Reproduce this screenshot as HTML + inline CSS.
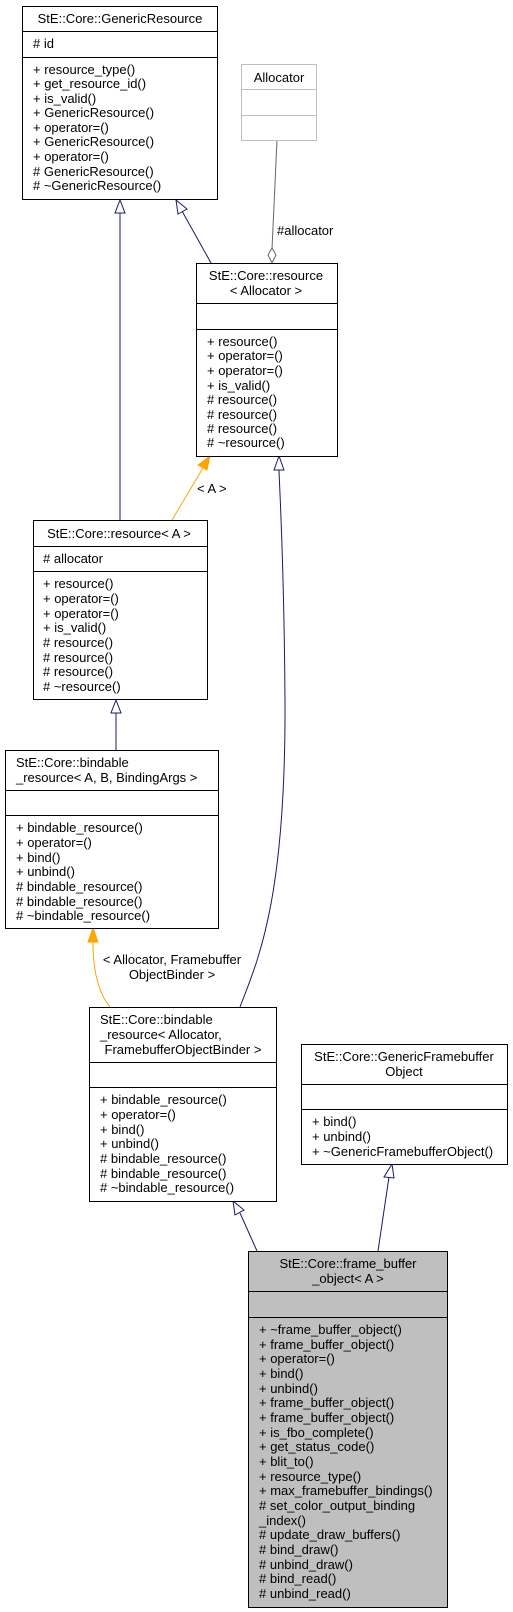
<!DOCTYPE html>
<html><head><meta charset="utf-8"><style>
html,body{margin:0;padding:0;background:#fff;}
svg{display:block;}
text{font-family:"Liberation Sans",sans-serif;font-size:13px;fill:#000;}
.c{text-anchor:middle;}
</style></head><body>
<svg width="513" height="1612" viewBox="0 0 513 1612" xmlns="http://www.w3.org/2000/svg">
<g fill="none" stroke="#191970" stroke-width="1">
<line x1="120" y1="520" x2="120" y2="213"/>
<polygon points="120,200 115,213 125,213" fill="#fff"/>
<line x1="211" y1="263" x2="182" y2="211"/>
<polygon points="176,200 178,214 187,209" fill="#fff"/>
<line x1="116" y1="750" x2="116" y2="713"/>
<polygon points="116,700 111,713 121,713" fill="#fff"/>
<path d="M240,1007 C258,960 286,900 285,700 C284,560 280,500 279,470"/>
<polygon points="279,456 274,470 284,470" fill="#fff"/>
<line x1="257" y1="1251" x2="240" y2="1213"/>
<polygon points="233,1201 235,1215 244,1210" fill="#fff"/>
<line x1="378" y1="1251" x2="389" y2="1177"/>
<polygon points="392,1164 384,1177 394,1178" fill="#fff"/>
</g>
<g fill="none" stroke="#ffa500" stroke-width="1">
<line x1="172" y1="520" x2="203" y2="468"/>
<polygon points="210,456 198,465 207,470" fill="#ffa500"/>
<path d="M110,1007 C96,990 93,965 93,942"/>
<polygon points="93,928 88,942 98,942" fill="#ffa500"/>
</g>
<line x1="277" y1="140" x2="272" y2="249" stroke="#666" stroke-width="1"/>
<polygon points="272,248 276,255 272,263 268,255" fill="#fff" stroke="#666"/>
<text x="277" y="235">#allocator</text>
<text x="197" y="493">&lt; A &gt;</text>
<text class="c" x="172" y="964">&lt; Allocator, Framebuffer</text>
<text class="c" x="172" y="979">ObjectBinder &gt;</text>

<g stroke="#000" fill="#fff"><rect x="22.5" y="6.5" width="195" height="193"/><line x1="22" y1="31.5" x2="218" y2="31.5"/><line x1="22" y1="57.5" x2="218" y2="57.5"/></g>
<text class="c" x="120" y="23">StE::Core::GenericResource</text>
<text x="33" y="48"># id</text>
<text x="33" y="74">+ resource_type()</text>
<text x="33" y="88">+ get_resource_id()</text>
<text x="33" y="103">+ is_valid()</text>
<text x="33" y="117">+ GenericResource()</text>
<text x="33" y="132">+ operator=()</text>
<text x="33" y="146">+ GenericResource()</text>
<text x="33" y="161">+ operator=()</text>
<text x="33" y="176"># GenericResource()</text>
<text x="33" y="190"># ~GenericResource()</text>

<g stroke="#bfbfbf" fill="#fff"><rect x="241.5" y="64.5" width="75" height="76"/><line x1="241" y1="89.5" x2="317" y2="89.5"/><line x1="241" y1="115.5" x2="317" y2="115.5"/></g>
<text class="c" x="279" y="82">Allocator</text>

<g stroke="#000" fill="#fff"><rect x="196.5" y="263.5" width="141" height="193"/><line x1="196" y1="303.5" x2="338" y2="303.5"/><line x1="196" y1="329.5" x2="338" y2="329.5"/></g>
<text class="c" x="266" y="280">StE::Core::resource</text>
<text class="c" x="266" y="295">&lt; Allocator &gt;</text>
<text x="207" y="346">+ resource()</text>
<text x="207" y="360">+ operator=()</text>
<text x="207" y="375">+ operator=()</text>
<text x="207" y="390">+ is_valid()</text>
<text x="207" y="404"># resource()</text>
<text x="207" y="419"># resource()</text>
<text x="207" y="433"># resource()</text>
<text x="207" y="447"># ~resource()</text>

<g stroke="#000" fill="#fff"><rect x="33.5" y="520.5" width="174" height="179"/><line x1="33" y1="546.5" x2="208" y2="546.5"/><line x1="33" y1="571.5" x2="208" y2="571.5"/></g>
<text class="c" x="119" y="538">StE::Core::resource&lt; A &gt;</text>
<text x="43" y="563"># allocator</text>
<text x="43" y="588">+ resource()</text>
<text x="43" y="603">+ operator=()</text>
<text x="43" y="618">+ operator=()</text>
<text x="43" y="632">+ is_valid()</text>
<text x="43" y="647"># resource()</text>
<text x="43" y="662"># resource()</text>
<text x="43" y="676"># resource()</text>
<text x="43" y="691"># ~resource()</text>

<g stroke="#000" fill="#fff"><rect x="5.5" y="750.5" width="213" height="178"/><line x1="5" y1="790.5" x2="219" y2="790.5"/><line x1="5" y1="815.5" x2="219" y2="815.5"/></g>
<text x="16" y="767">StE::Core::bindable</text>
<text x="16" y="782">_resource&lt; A, B, BindingArgs &gt;</text>
<text x="16" y="832">+ bindable_resource()</text>
<text x="16" y="847">+ operator=()</text>
<text x="16" y="862">+ bind()</text>
<text x="16" y="876">+ unbind()</text>
<text x="16" y="891"># bindable_resource()</text>
<text x="16" y="906"># bindable_resource()</text>
<text x="16" y="920"># ~bindable_resource()</text>

<g stroke="#000" fill="#fff"><rect x="89.5" y="1007.5" width="187" height="194"/><line x1="89" y1="1062.5" x2="277" y2="1062.5"/><line x1="89" y1="1087.5" x2="277" y2="1087.5"/></g>
<text x="100" y="1024">StE::Core::bindable</text>
<text x="100" y="1039">_resource&lt; Allocator,</text>
<text class="c" x="183" y="1054">FramebufferObjectBinder &gt;</text>
<text x="100" y="1104">+ bindable_resource()</text>
<text x="100" y="1119">+ operator=()</text>
<text x="100" y="1134">+ bind()</text>
<text x="100" y="1148">+ unbind()</text>
<text x="100" y="1163"># bindable_resource()</text>
<text x="100" y="1178"># bindable_resource()</text>
<text x="100" y="1192"># ~bindable_resource()</text>

<g stroke="#000" fill="#fff"><rect x="301.5" y="1044.5" width="206" height="120"/><line x1="301" y1="1084.5" x2="508" y2="1084.5"/><line x1="301" y1="1109.5" x2="508" y2="1109.5"/></g>
<text class="c" x="404" y="1061">StE::Core::GenericFramebuffer</text>
<text class="c" x="404" y="1076">Object</text>
<text x="312" y="1126">+ bind()</text>
<text x="312" y="1141">+ unbind()</text>
<text x="312" y="1156">+ ~GenericFramebufferObject()</text>

<g stroke="#000" fill="#bfbfbf"><rect x="248.5" y="1251.5" width="199" height="356"/><line x1="248" y1="1291.5" x2="448" y2="1291.5"/><line x1="248" y1="1317.5" x2="448" y2="1317.5"/></g>
<text class="c" x="348" y="1268">StE::Core::frame_buffer</text>
<text class="c" x="348" y="1283">_object&lt; A &gt;</text>
<text x="259" y="1334">+ ~frame_buffer_object()</text>
<text x="259" y="1349">+ frame_buffer_object()</text>
<text x="259" y="1363">+ operator=()</text>
<text x="259" y="1378">+ bind()</text>
<text x="259" y="1393">+ unbind()</text>
<text x="259" y="1407">+ frame_buffer_object()</text>
<text x="259" y="1422">+ frame_buffer_object()</text>
<text x="259" y="1437">+ is_fbo_complete()</text>
<text x="259" y="1451">+ get_status_code()</text>
<text x="259" y="1466">+ blit_to()</text>
<text x="259" y="1481">+ resource_type()</text>
<text x="259" y="1495">+ max_framebuffer_bindings()</text>
<text x="259" y="1510"># set_color_output_binding</text>
<text x="259" y="1525">_index()</text>
<text x="259" y="1539"># update_draw_buffers()</text>
<text x="259" y="1554"># bind_draw()</text>
<text x="259" y="1569"># unbind_draw()</text>
<text x="259" y="1583"># bind_read()</text>
<text x="259" y="1598"># unbind_read()</text>
</svg>
</body></html>
